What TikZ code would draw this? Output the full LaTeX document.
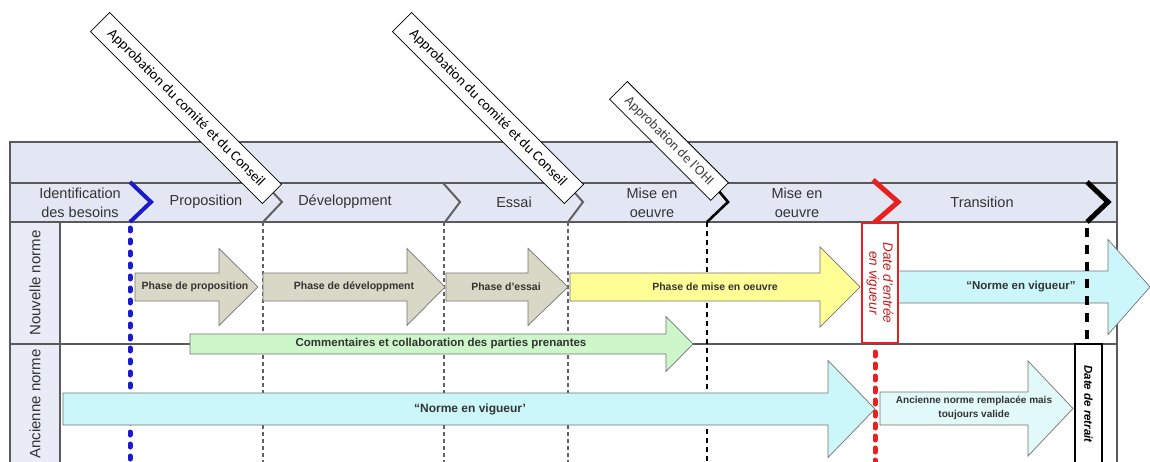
\documentclass[tikz,border=0pt]{standalone}
\usepackage{fontspec}
\setmainfont{Liberation Sans}
\newfontfamily\calib{Carlito}
\definecolor{hdr}{HTML}{E2E7F3}
\definecolor{lcol}{HTML}{E9ECF6}
\definecolor{phasec}{HTML}{D8D8C6}
\definecolor{yel}{HTML}{FFFF96}
\definecolor{cya}{HTML}{CCF7FA}
\definecolor{cyal}{HTML}{E2F9FA}
\definecolor{grn}{HTML}{CDF7CB}
\definecolor{framec}{HTML}{5A5A5A}
\definecolor{blu}{HTML}{1A1AD0}
\definecolor{rd}{HTML}{E82020}
\newcommand\barrow[7]{%
  \filldraw[#1] (#2,#5-#6) -- (#3,#5-#6) -- (#3,#5-#7) -- (#4,#5) -- (#3,#5+#7) -- (#3,#5+#6) -- (#2,#5+#6) -- cycle;}
\begin{document}
\begin{tikzpicture}[x=1pt,y=-1pt,
  frameline/.style={draw=framec,line width=1.4pt},
  arr/.style={draw=black!55,line width=0.7pt},
  hdrtext/.style={font=\fontsize{14.5}{19}\selectfont,text=black!80,align=center,inner sep=0pt},
  arrtext/.style={font=\fontsize{10.5}{14}\selectfont\bfseries,text=black!80,align=center,inner sep=0pt},
  rowtext/.style={font=\fontsize{15}{18}\selectfont,text=black!80,rotate=90,inner sep=0pt},
  approval/.style={draw=black,line width=0.8pt,fill=white,rotate=-45,inner sep=0pt,font=\calib\fontsize{14.5}{17}\selectfont},
  grayline/.style={draw=black!62,line width=1.6pt,dash pattern=on 4pt off 3pt},
  chev/.style={line width=2pt,draw=black!62,line join=miter},
]
\useasboundingbox (0,0) rectangle (1150,462);
\fill[white] (0,0) rectangle (1150,462);
% header and left column
\fill[hdr] (10,142) rectangle (1117,222);
\fill[lcol] (10,222) rectangle (60,462);
\draw[frameline] (10,462) -- (10,142) -- (1117,142) -- (1117,462);
\draw[frameline] (10,183) -- (1117,183);
\draw[frameline] (10,222) -- (1117,222);
\draw[frameline] (10,344) -- (1117,344);
\draw[frameline] (60,222) -- (60,462);
% phase boundary lines (under arrows)
\draw[blu,line width=5pt,line cap=round,dash pattern=on 3pt off 9pt] (130,228) -- (130,462);
\draw[grayline] (263,222) -- (263,462);
\draw[grayline] (444,222) -- (444,462);
\draw[grayline] (568,222) -- (568,462);
\draw[black,line width=2.6pt,dash pattern=on 5pt off 4pt] (707,222) -- (707,462);
% arrows, new standard
\barrow{arr,fill=phasec}{135}{219}{258}{287}{14}{38.5}
\barrow{arr,fill=phasec}{263}{407}{445}{287}{14}{38.5}
\barrow{arr,fill=phasec}{446}{528}{568}{287}{14}{38.5}
\barrow{arr,fill=yel}{570}{820}{860}{287}{14}{40}
\barrow{arr,fill=cya}{898}{1108}{1150}{287}{16}{47.5}
\barrow{arr,fill=grn}{190}{666}{693}{344}{10}{27.5}
% arrows, old standard
\barrow{arr,fill=cya}{63}{828}{875}{409}{16}{48.5}
\barrow{arr,fill=cyal}{880}{1028}{1073}{408.5}{16.5}{47.5}
% red and black markers
\draw[rd,line width=5pt,line cap=round,dash pattern=on 4pt off 8pt] (875,352) -- (875,462);
\draw[black,line width=4.5pt,dash pattern=on 9pt off 8pt] (1087,228) -- (1087,344);
% chevrons
\draw[blu,line width=4pt,line join=miter] (130,182) -- (151,202) -- (130,222);
\draw[chev] (264,183) -- (282,202) -- (263,222);
\draw[chev] (443,183) -- (460,202) -- (445,222);
\draw[chev] (566,183) -- (583,202) -- (568,222);
\draw[black,line width=2.6pt,line join=miter] (712,183) -- (728,202) -- (707,222);
\draw[rd,line width=5pt,line join=miter] (873,180) -- (898,202) -- (875,222) -- (875,224);
\draw[black,line width=5pt,line join=miter] (1087,182) -- (1108,202) -- (1087,222);
% boxes
\node[draw=rd,line width=2.6pt,fill=white,minimum width=36pt,minimum height=120pt,inner sep=0pt] (entree) at (880,283) {};
\node[rotate=-90,text=rd!85!black,font=\fontsize{13.5}{14}\selectfont\itshape,align=center,inner sep=0pt] (entreetxt) at (entree.center) {Date d'entrée\\en vigueur};
\filldraw[black,fill=white,line width=2.6pt] (1075,463) -- (1075,344) -- (1102,344) -- (1102,463);
\node[rotate=-90,font=\fontsize{11.5}{13}\selectfont\bfseries\itshape,inner sep=0pt] (retrait) at (1088.5,404) {Date de retrait};
% approval boxes
\node[approval,minimum width=243pt,minimum height=27pt] (ap1) at (186,108) {Approbation du comité et du Conseil};
\node[approval,minimum width=243pt,minimum height=27pt] (ap2) at (488,108) {Approbation du comité et du Conseil};
\node[approval,minimum width=143pt,minimum height=25pt,text=black!75,font=\calib\fontsize{14}{15}\selectfont] (ap3) at (669,141) {Approbation de l'OHI};
% header labels
\node[hdrtext] (h1) at (80,203) {Identification\\des besoins};
\node[hdrtext] (h2) at (206,202) {Proposition};
\node[hdrtext] (h3) at (345,202) {Développment};
\node[hdrtext] (h4) at (514,202) {Essai};
\node[hdrtext] (h5) at (652,203) {Mise en\\oeuvre};
\node[hdrtext] (h6) at (797,203) {Mise en\\oeuvre};
\node[hdrtext] (h7) at (982,202) {Transition};
% row labels
\node[rowtext] (r1) at (35,283) {Nouvelle norme};
\node[rowtext] (r2) at (35,404) {Ancienne norme};
% arrow labels
\node[arrtext] (a1) at (195,287) {Phase de proposition};
\node[arrtext] (a2) at (354,287) {Phase de développment};
\node[arrtext] (a3) at (506,287) {Phase d'essai};
\node[arrtext] (a4) at (715,287) {Phase de mise en oeuvre};
\node[arrtext,font=\fontsize{11.5}{14}\selectfont\bfseries] (a5) at (1021,287) {“Norme en vigueur”};
\node[arrtext,font=\fontsize{11.5}{14}\selectfont\bfseries] (a6) at (441,344) {Commentaires et collaboration des parties prenantes};
\node[arrtext,font=\fontsize{12}{14}\selectfont\bfseries] (a7) at (470,409) {“Norme en vigueur’};
\node[arrtext,font=\fontsize{10}{14}\selectfont\bfseries] (a8) at (974,408) {Ancienne norme remplacée mais\\toujours valide};
\end{tikzpicture}
\end{document}
